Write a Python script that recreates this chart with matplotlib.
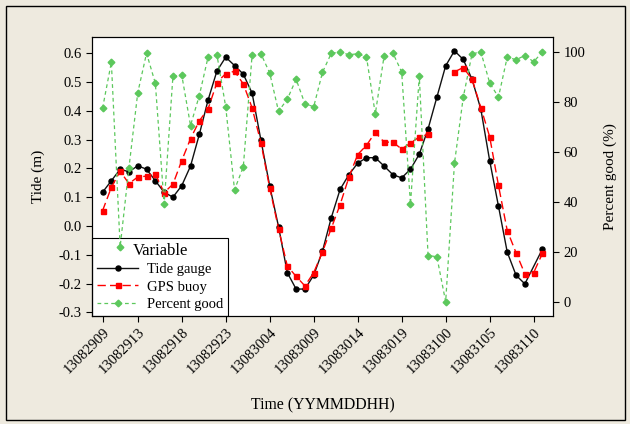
import numpy as np
import matplotlib
matplotlib.use('Agg')
import matplotlib.pyplot as plt

plt.rcParams['font.family'] = ['Liberation Serif', 'DejaVu Serif']
plt.rcParams['axes.unicode_minus'] = False

# hourly index 1..51 (13082909 .. 13083111)
idx = np.arange(1, 52)
tick_pos = [1, 5, 10, 15, 20, 25, 30, 35, 40, 45, 50]
tick_labels = ['13082909', '13082913', '13082918', '13082923', '13083004', '13083009',
               '13083014', '13083019', '13083100', '13083105', '13083110']

tide_gauge = [0.117, 0.157, 0.197, 0.188, 0.209, 0.197, 0.157, 0.117, 0.100, 0.140,
              0.208, 0.318, 0.438, 0.538, 0.586, 0.557, 0.527, 0.461, 0.298, 0.139,
              -0.002, -0.162, -0.219, -0.219, -0.171, -0.087, 0.029, 0.127, 0.178, 0.218,
              0.237, 0.237, 0.208, 0.178, 0.167, 0.197, 0.249, 0.337, 0.447, 0.556,
              0.608, 0.578, 0.509, 0.405, 0.227, 0.069, -0.091, -0.171, -0.201, np.nan,
              -0.080]
gps_buoy = [0.053, 0.134, 0.190, 0.147, 0.170, 0.173, 0.180, 0.116, 0.145, 0.227,
            0.303, 0.365, 0.407, 0.498, 0.529, 0.537, 0.493, 0.410, 0.289, 0.132,
            -0.009, -0.139, -0.175, -0.208, -0.162, -0.090, -0.008, 0.074, 0.169, 0.248,
            0.280, 0.325, 0.291, 0.291, 0.267, 0.288, 0.309, 0.318, np.nan, np.nan,
            0.535, 0.550, 0.509, 0.411, 0.310, 0.141, -0.016, -0.093, -0.166, -0.162,
            -0.095]
percent_good = [77.4, 95.8, 22.0, 53.6, 83.6, 99.4, 87.4, 39.0, 90.3, 90.7,
                70.5, 82.5, 98.0, 98.8, 77.9, 44.8, 54.0, 98.8, 99.2, 91.5,
                76.2, 81.0, 89.0, 79.2, 78.0, 91.8, 99.4, 99.9, 98.8, 99.2,
                97.9, 75.1, 98.3, 99.5, 91.9, 39.0, 90.2, 18.5, 18.0, 0.0,
                55.4, 81.8, 99.2, 99.9, 87.6, 81.8, 97.9, 96.8, 98.5, 96.0,
                99.9]

tide_gauge = np.array(tide_gauge)
gps_buoy = np.array(gps_buoy)
ok = ~np.isnan(tide_gauge)

bg = '#EEEADF'
green = '#5CC85C'
fig = plt.figure(figsize=(6.3, 4.24), dpi=100, facecolor=bg)
ax = fig.add_axes([92/630, 1 - 316/424, 461/630, 279/424])
ax2 = ax.twinx()

l1, = ax.plot(idx[ok], tide_gauge[ok], '-', color='#111111', lw=1, marker='o', ms=3.6,
              mfc='black', mec='black', label='Tide gauge')
l2, = ax.plot(idx, gps_buoy, '--', color='red', lw=1, dashes=(6, 3), marker='s', ms=3.6,
              label='GPS buoy')
l3, = ax2.plot(idx, percent_good, '--', color=green, lw=0.9, dashes=(3, 2.5),
               marker='D', ms=3.4, mec=green, mfc=green, label='Percent good')

ax.set_xlim(-0.2, 52.2)
ax.set_ylim(-0.3125, 0.656)
ax2.set_ylim(-5.7, 105.9)
ax.set_yticks(np.arange(-0.3, 0.61, 0.1))
ax.set_yticklabels(['%.1f' % v for v in np.arange(-0.3, 0.61, 0.1)])
ax2.set_yticks([0, 20, 40, 60, 80, 100])
ax.set_xticks(tick_pos)
ax.set_xticklabels(tick_labels, rotation=45, ha='right', rotation_mode='anchor')

for a in (ax, ax2):
    a.tick_params(direction='out', length=4, width=0.8, labelsize=10.5, colors='black')
    for s in a.spines.values():
        s.set_linewidth(0.8)
ax.tick_params(axis='x', pad=3)

ax.set_ylabel('Tide (m)', fontsize=11, labelpad=10)
ax2.set_ylabel('Percent good (%)', fontsize=11, labelpad=13)
ax.set_xlabel('Time (YYMMDDHH)', fontsize=11.3, labelpad=15)

leg = ax.legend(handles=[l1, l2, l3], title='Variable', loc='lower left',
                bbox_to_anchor=(0, 0), borderaxespad=0, fontsize=10.5,
                title_fontsize=12, fancybox=False, edgecolor='black', framealpha=1,
                handlelength=2.8, labelspacing=0.28, borderpad=0.35, handletextpad=0.6)
leg.get_frame().set_linewidth(0.8)
leg.set_zorder(1)

fig.patches.append(plt.Rectangle((6/630, 4/424), 619/630, 414/424, transform=fig.transFigure,
                                 fill=False, edgecolor='black', lw=1))

fig.savefig('out.png', dpi=100, facecolor=bg)
